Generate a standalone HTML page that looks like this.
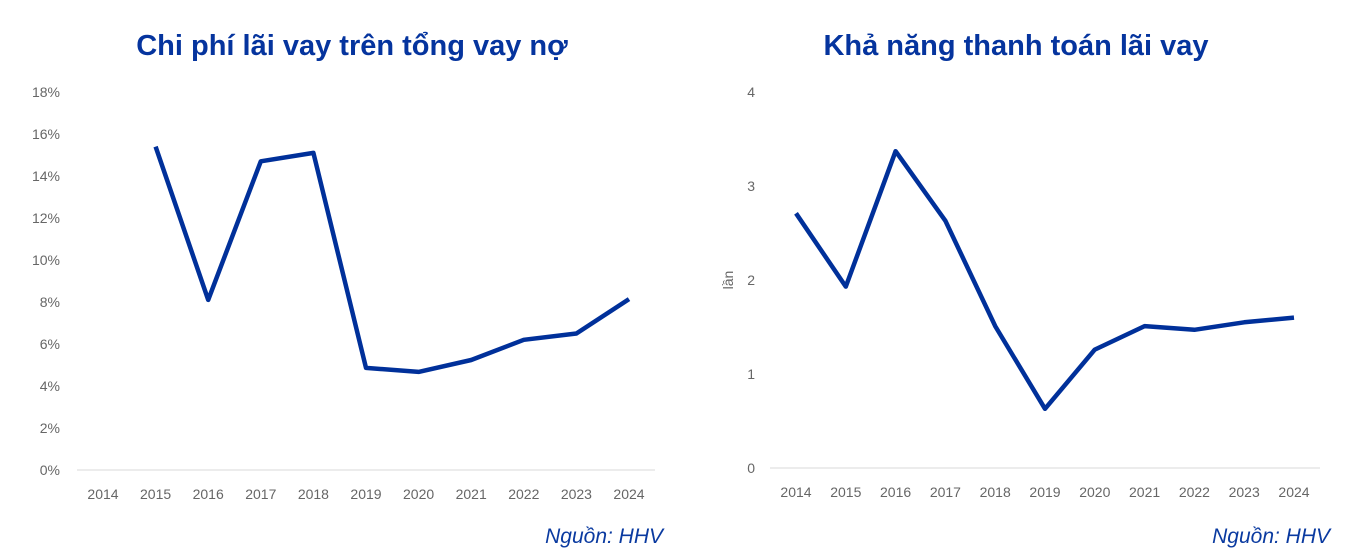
<!DOCTYPE html>
<html><head><meta charset="utf-8"><style>
body{margin:0;background:#fff;width:1362px;height:560px;overflow:hidden;font-family:"Liberation Sans",sans-serif}
svg{display:block}
</style></head><body>
<svg id="c" width="1362" height="560">
<text x="352" y="55" text-anchor="middle" font-size="29" font-weight="bold" fill="#05349e">Chi phí lãi vay trên tổng vay nợ</text>
<text x="1016" y="55" text-anchor="middle" font-size="29" font-weight="bold" fill="#05349e">Khả năng thanh toán lãi vay</text>
<text x="663" y="543" text-anchor="end" font-size="21" font-style="italic" fill="#0a3aa0">Nguồn: HHV</text>
<text x="1330" y="543" text-anchor="end" font-size="21" font-style="italic" fill="#0a3aa0">Nguồn: HHV</text>
<text transform="translate(733,280) rotate(-90)" text-anchor="middle" font-size="14" fill="#666">lần</text>
</svg>
<script>
const years=["2014","2015","2016","2017","2018","2019","2020","2021","2022","2023","2024"];
const costRatio=[null,15.4,8.1,14.7,15.1,4.86,4.67,5.24,6.2,6.5,8.14];
const coverage=[2.71,1.93,3.37,2.63,1.51,0.63,1.26,1.51,1.47,1.55,1.6];
const leftTicks=[0,2,4,6,8,10,12,14,16,18];
const rightTicks=[0,1,2,3,4];
const svg=document.getElementById('c');
const NS="http://www.w3.org/2000/svg";
function mk(t,a){const e=document.createElementNS(NS,t);for(const k in a)e.setAttribute(k,a[k]);svg.appendChild(e);return e;}
function chart(side,vals,ticks,yMax,x0,x1,ax0,ax1,yTop,yBot,labX,fmt){
  const xs=i=>x0+(x1-x0)*i/(years.length-1);
  const ys=v=>yBot-(yBot-yTop)*v/yMax;
  let l=mk('line',{x1:ax0,x2:ax1,y1:yBot,y2:yBot,stroke:'#d9d9d9','stroke-width':1});
  
  
  ticks.forEach(t=>{const e=mk('text',{x:labX,y:ys(t)+5,'text-anchor':'end','font-size':14,fill:'#666'});e.textContent=fmt(t);
    
    });
  years.forEach((y,i)=>{const e=mk('text',{x:xs(i),y:yBot+29,'text-anchor':'middle','font-size':14,fill:'#666'});e.textContent=y;
    
    });
  const pts=[];vals.forEach((v,i)=>{if(v!=null)pts.push(xs(i).toFixed(1)+','+ys(v).toFixed(1));});
  const p=mk('polyline',{points:pts.join(' '),fill:'none',stroke:'#00309a','stroke-width':4.5,'stroke-linejoin':'round'});
  
  
}
chart('left',costRatio,leftTicks,18,103,629,77,655,92,470,60,t=>t+'%');
chart('right',coverage,rightTicks,4,796,1294,770,1320,92,468,755,t=>String(t));
</script>
</body></html>
